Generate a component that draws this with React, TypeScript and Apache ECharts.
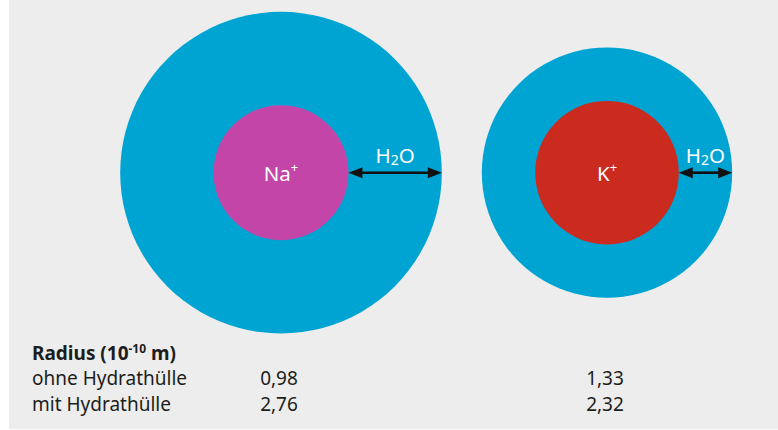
import React, { useEffect, useRef } from "react";
import * as echarts from "echarts";

// Ions and their radii (10^-10 m) as given in the table
const ions = ["Na", "K"];
const radiusWithoutShell = [0.98, 1.33];
const radiusWithShell = [2.76, 2.32];
// Radii as they are illustrated in the drawing (same unit)
const drawnIonRadius = [1.25, 1.33];
const drawnShellRadius = [2.98, 2.32];
const ionColors = ["#C345A7", "#CB2A1F"];
const shellColor = "#00A4D3";
const rowLabels = ["ohne Hydrathülle", "mit Hydrathülle"];
const headerMain = "Radius (10";
const headerExp = "-10";
const headerUnit = " m)";

const FONT = "'Noto Sans', 'Open Sans', sans-serif";
const TEXT_COLOR = "#1d1d1b";
const fmt = (v: number) => v.toFixed(2).replace(".", ",");

const rowY = [378, 403.5];

export default function App() {
  const ref = useRef<HTMLDivElement>(null);

  useEffect(() => {
    if (!ref.current) return;
    const chart = echarts.init(ref.current, undefined, { renderer: "svg" });

    const renderItem = (params: any, api: any) => {
      const i = params.dataIndex;
      const c = api.coord([i, 0]);
      const cx = c[0];
      const cy = c[1];
      const rOut = api.size([0, drawnShellRadius[i]])[1];
      const rIn = api.size([0, drawnIonRadius[i]])[1];
      const x1 = cx + rIn;
      const x2 = cx + rOut;
      const head = 14;
      const hw = 5.5;
      const children: any[] = [
        { type: "circle", shape: { cx, cy, r: rOut }, style: { fill: shellColor } },
        { type: "circle", shape: { cx, cy, r: rIn }, style: { fill: ionColors[i] } },
        {
          type: "text",
          x: cx,
          y: cy,
          style: {
            text: `{n|${ions[i]}}{s|+}`,
            align: "center",
            verticalAlign: "middle",
            fill: "#ffffff",
            rich: {
              n: { fontSize: 20.5, fontFamily: FONT, fill: "#fff", lineHeight: 24 },
              s: { fontSize: 13, fontFamily: FONT, fill: "#fff", verticalAlign: "top", lineHeight: 13 },
            },
          },
        },
        {
          type: "line",
          shape: { x1: x1 + head - 2, y1: cy, x2: x2 - head + 2, y2: cy },
          style: { stroke: "#111111", lineWidth: 2.6 },
        },
        {
          type: "polygon",
          shape: { points: [[x1, cy], [x1 + head, cy - hw], [x1 + head, cy + hw]] },
          style: { fill: "#111111" },
        },
        {
          type: "polygon",
          shape: { points: [[x2, cy], [x2 - head, cy - hw], [x2 - head, cy + hw]] },
          style: { fill: "#111111" },
        },
        {
          type: "text",
          x: (x1 + x2) / 2,
          y: cy - 18,
          style: {
            text: "{a|H}{b|2}{a|O}",
            align: "center",
            verticalAlign: "middle",
            fill: "#ffffff",
            rich: {
              a: { fontSize: 20.5, fontFamily: FONT, fill: "#fff", lineHeight: 24 },
              b: { fontSize: 14, fontFamily: FONT, fill: "#fff", verticalAlign: "bottom", lineHeight: 18 },
            },
          },
        },
        {
          type: "text",
          x: cx - 2,
          y: rowY[0],
          style: {
            text: fmt(radiusWithoutShell[i]),
            align: "center",
            verticalAlign: "middle",
            fill: TEXT_COLOR,
            fontSize: 19,
            fontFamily: FONT,
          },
        },
        {
          type: "text",
          x: cx - 2,
          y: rowY[1],
          style: {
            text: fmt(radiusWithShell[i]),
            align: "center",
            verticalAlign: "middle",
            fill: TEXT_COLOR,
            fontSize: 19,
            fontFamily: FONT,
          },
        },
      ];
      return { type: "group", children };
    };

    chart.setOption({
      animation: false,
      backgroundColor: "#ECEDEC",
      grid: { left: 109, width: 652, top: 0, bottom: 0 },
      xAxis: {
        type: "category",
        data: ions,
        show: false,
        boundaryGap: true,
      },
      yAxis: {
        type: "value",
        min: -4.75,
        max: 3.2,
        show: false,
      },
      graphic: [
        {
          type: "text",
          left: 23,
          top: 342,
          style: {
            text: `{b|${headerMain}}{s|${headerExp}}{b|${headerUnit}}`,
            fill: TEXT_COLOR,
            rich: {
              b: { fontSize: 19, fontWeight: "bold", fontFamily: FONT, fill: TEXT_COLOR, lineHeight: 21 },
              s: { fontSize: 12, fontWeight: "bold", fontFamily: FONT, fill: TEXT_COLOR, verticalAlign: "top", lineHeight: 12 },
            },
          },
        },
        ...rowLabels.map((t, k) => ({
          type: "text",
          x: 23,
          y: rowY[k],
          style: {
            text: t,
            fill: TEXT_COLOR,
            fontSize: 19,
            fontFamily: FONT,
            verticalAlign: "middle",
          },
        })),
      ],
      series: [
        {
          type: "custom",
          renderItem,
          data: ions.map((_, i) => [i, 0]),
          silent: true,
        },
      ],
    });

    return () => chart.dispose();
  }, []);

  return (
    <div style={{ position: "absolute", left: 0, top: 0, width: 778, height: 430, background: "#ffffff" }}>
      <div ref={ref} style={{ position: "absolute", left: 9, top: 0, width: 769, height: 429 }} />
    </div>
  );
}
